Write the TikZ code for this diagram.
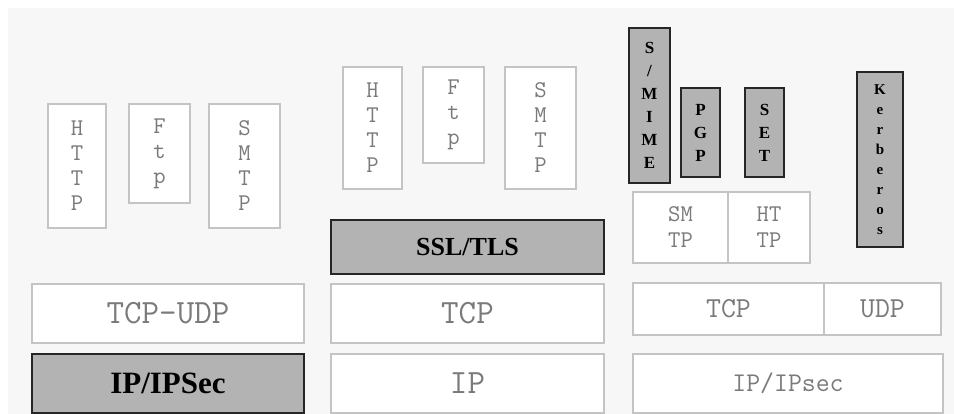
\documentclass[tikz,border=0pt]{standalone}
\usepackage{fontspec}
\setmainfont{Liberation Serif}
\definecolor{bggray}{HTML}{F7F7F7}
\definecolor{linegray}{HTML}{C4C4C4}
\definecolor{txtgray}{HTML}{7A7A7A}
\definecolor{secgray}{HTML}{B3B3B3}
\begin{document}
\begin{tikzpicture}[
    x=1pt, y=-1pt,
    proto/.style={rectangle, draw=linegray, fill=white, line width=1.6pt, inner sep=0pt, align=center, text=txtgray},
    sec/.style={rectangle, draw=black!85, fill=secgray, line width=1.6pt, inner sep=0pt, align=center, text=black, font=\bfseries},
    vmono/.style={font=\ttfamily\fontsize{24}{25}\selectfont},
    bigmono/.style={font=\ttfamily\fontsize{34}{36}\selectfont},
    sz/.style 2 args={minimum width=#1pt, minimum height=#2pt}
]
\useasboundingbox (0,0) rectangle (954,414);
\fill[bggray] (8,8) rectangle (954,414);

% Left stack
\node[proto, vmono, sz={58}{124}] (lhttp) at (77,166) {H\\T\\T\\P};
\node[proto, vmono, sz={61}{99}] (lftp) at (159.5,153.5) {F\\t\\p};
\node[proto, vmono, sz={71}{124}] (lsmtp) at (244.5,166) {S\\M\\T\\P};
\node[proto, bigmono, sz={272}{59}] (ltcpudp) at (168,313.5) {TCP-UDP};
\node[sec, sz={272}{59}, font=\bfseries\fontsize{31}{34}\selectfont] (lipsec) at (168,383.5) {IP/IPSec};

% Middle stack
\node[proto, vmono, sz={59}{122}] (mhttp) at (372.5,128) {H\\T\\T\\P};
\node[proto, vmono, sz={61}{96}] (mftp) at (453.5,115) {F\\t\\p};
\node[proto, vmono, sz={71}{122}] (msmtp) at (540.5,128) {S\\M\\T\\P};
\node[sec, sz={273}{54}, font=\bfseries\fontsize{26}{30}\selectfont] (mssl) at (467.5,247) {SSL/TLS};
\node[proto, bigmono, sz={273}{59}] (mtcp) at (467.5,313.5) {TCP};
\node[proto, bigmono, sz={273}{59}] (mip) at (467.5,383.5) {IP};

% Right stack
\node[sec, sz={41}{155}, font=\bfseries\fontsize{17}{23}\selectfont] (rsmime) at (649.5,105.5) {S\\/\\M\\I\\M\\E};
\node[sec, sz={39}{89}, font=\bfseries\fontsize{17}{23}\selectfont] (rpgp) at (700.5,132.5) {P\\G\\P};
\node[sec, sz={39}{89}, font=\bfseries\fontsize{17}{23}\selectfont] (rset) at (764.5,132.5) {S\\E\\T};
\node[sec, sz={46}{175}, font=\bfseries\fontsize{15}{20}\selectfont] (rkerb) at (880,159.5) {K\\e\\r\\b\\e\\r\\o\\s};
\node[proto, sz={95}{71}, font=\ttfamily\fontsize{24}{26}\selectfont] (rsmtp) at (680.5,227.5) {SM\\TP};
\node[proto, sz={82}{71}, font=\ttfamily\fontsize{24}{26}\selectfont] (rhttp) at (769,227.5) {HT\\TP};
\node[proto, sz={191}{52}, font=\ttfamily\fontsize{29}{32}\selectfont] (rtcp) at (728.5,309) {TCP};
\node[proto, sz={117}{52}, font=\ttfamily\fontsize{29}{32}\selectfont] (rudp) at (882.5,309) {UDP};
\node[proto, sz={310}{59}, font=\ttfamily\fontsize{27}{30}\selectfont] (ripsec) at (788,383.5) {IP/IPsec};

\end{tikzpicture}
\end{document}
